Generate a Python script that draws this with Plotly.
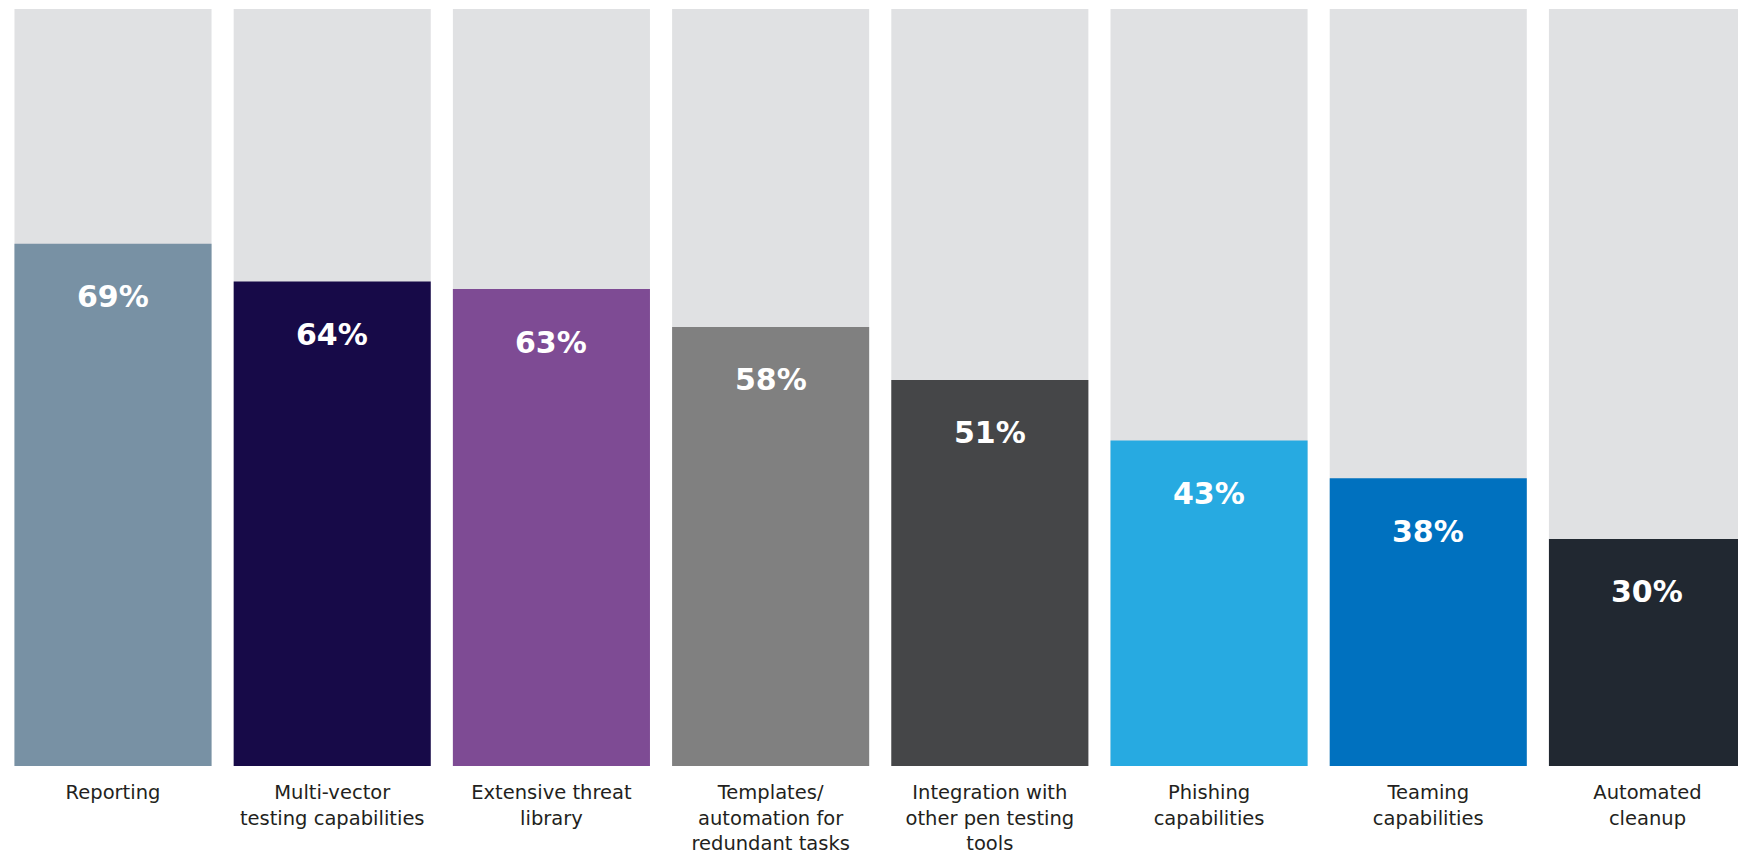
import plotly.graph_objects as go

categories = [
    "Reporting",
    "Multi-vector<br>testing capabilities",
    "Extensive threat<br>library",
    "Templates/<br>automation for<br>redundant tasks",
    "Integration with<br>other pen testing<br>tools",
    "Phishing<br>capabilities",
    "Teaming<br>capabilities",
    "Automated<br>cleanup",
]
values = [69, 64, 63, 58, 51, 43, 38, 30]
bar_colors = ["#7891A4", "#170A48", "#7E4B94", "#808080",
              "#454648", "#27AAE1", "#0071BF", "#212831"]
full_scale = [100] * len(categories)

x_pos = list(range(len(categories)))

fig = go.Figure()

# light track behind each bar, representing 100%
fig.add_trace(go.Bar(
    x=x_pos, y=full_scale, width=0.899,
    marker=dict(color="#E0E1E3", line=dict(width=0)),
    hoverinfo="skip", showlegend=False,
))

# actual share for each capability
fig.add_trace(go.Bar(
    x=x_pos, y=values, width=0.899,
    marker=dict(color=bar_colors, line=dict(width=0)),
    showlegend=False,
))

for xi, v in zip(x_pos, values):
    fig.add_annotation(
        x=xi, y=v, text=f"<b>{v}%</b>", showarrow=False,
        yanchor="middle", yshift=-53,
        font=dict(family="DejaVu Sans", size=30, color="white"),
    )

fig.update_layout(
    barmode="overlay",
    width=1738, height=854,
    margin=dict(l=0, r=0, t=9, b=88),
    paper_bgcolor="white", plot_bgcolor="white",
    xaxis=dict(
        range=[-0.5155, 7.413],
        tickmode="array", tickvals=x_pos, ticktext=categories,
        ticks="outside", ticklen=9, tickcolor="rgba(0,0,0,0)",
        tickfont=dict(family="DejaVu Sans", size=19.5, color="#231F20"),
        showgrid=False, zeroline=False, showline=False,
        automargin=False,
    ),
    yaxis=dict(range=[0, 100], visible=False, showgrid=False,
               zeroline=False, automargin=False),
)

fig.write_html("out.html")
